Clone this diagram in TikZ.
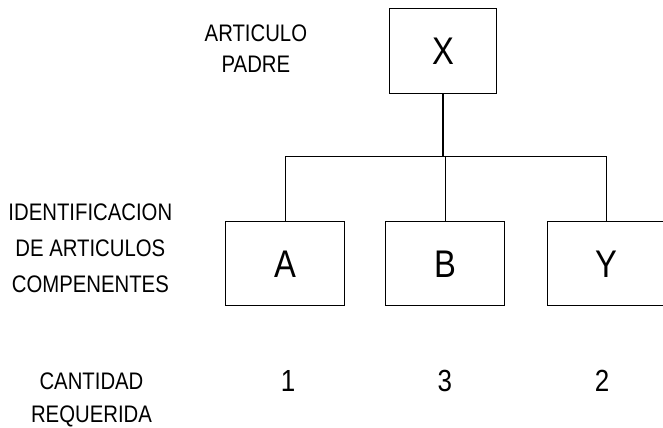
\documentclass[tikz,border=0pt]{standalone}
\usepackage{fontspec}
\setmainfont{Liberation Sans}[FakeStretch=0.85]
\tikzset{
  caja/.style={draw, line width=0.8pt, inner sep=0pt, minimum width=3.15cm,
    minimum height=2.22cm, font=\fontsize{29}{29}\selectfont},
  rotulo/.style={align=center, inner sep=0pt},
  cantidad/.style={inner sep=0pt, font=\fontsize{23}{23}\selectfont}
}
\begin{document}
\begin{tikzpicture}
   \useasboundingbox (0,0) rectangle (17.54,11.32);

   \node[caja, minimum width=2.83cm, minimum height=2.25cm] (X) at (11.72,9.96) {X};
   \node[caja] (A) at (7.55,4.34) {A};
   \node[caja] (B) at (11.78,4.34) {B};
   \node[caja] (Y) at (16.05,4.34) {Y};

   \node[rotulo, font=\fontsize{18}{23}\selectfont] (padre) at (6.77,10.04)
     {ARTICULO\\PADRE};
   \node[rotulo, font=\fontsize{18}{27}\selectfont] (ident) at (2.39,4.76)
     {IDENTIFICACION\\DE ARTICULOS\\COMPENENTES};
   \node[rotulo, font=\fontsize{18}{24.5}\selectfont] (cant) at (2.42,0.74)
     {CANTIDAD\\REQUERIDA};

   \node[cantidad] (nA) at (7.62,1.24) {1};
   \node[cantidad] (nB) at (11.77,1.24) {3};
   \node[cantidad] (nY) at (15.93,1.24) {2};

   \coordinate (barra) at (0,7.17);
   \draw[line width=0.8pt] (X.south) -- (X.south |- barra);
   \draw[line width=0.8pt] (A.north) -- (A.north |- barra) -- (Y.north |- barra) -- (Y.north);
   \draw[line width=0.8pt] (B.north) -- (B.north |- barra);
\end{tikzpicture}
\end{document}
